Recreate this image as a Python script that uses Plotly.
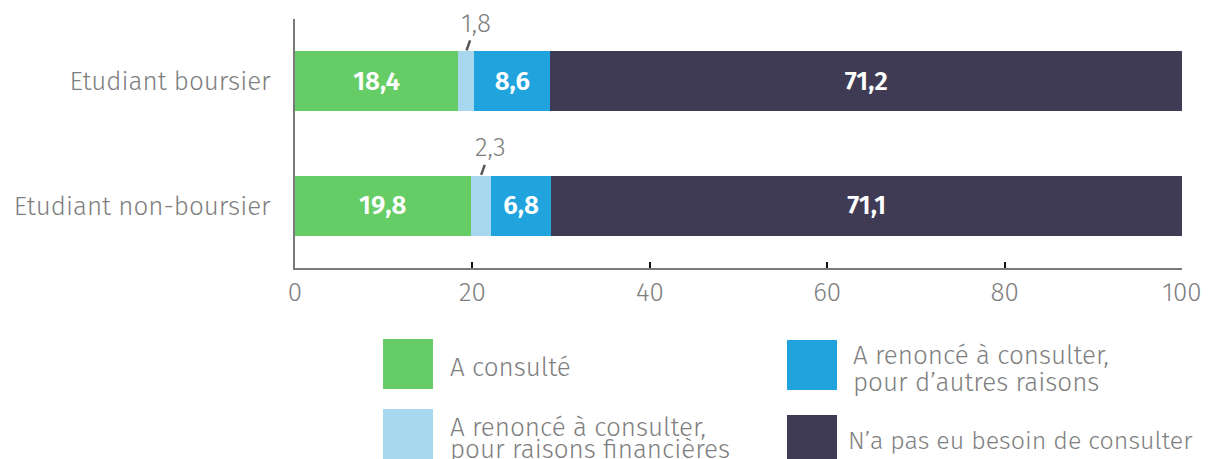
import plotly.graph_objects as go

categories = ["Etudiant boursier", "Etudiant non-boursier"]
series_names = [
    ["A consulté"],
    ["A renoncé à consulter,", "pour raisons financières"],
    ["A renoncé à consulter,", "pour d’autres raisons"],
    ["N’a pas eu besoin de consulter"],
]
consulte = [18.4, 19.8]
renonce_fin = [1.8, 2.3]
renonce_autres = [8.6, 6.8]
pas_besoin = [71.2, 71.1]
x_ticks = [0, 20, 40, 60, 80, 100]

GREEN = "#66CD66"
LIGHT = "#A8D8F0"
BLUE = "#21A4DE"
DARK = "#403B55"
GRAY = "#7F7F7F"
FONT = "Fira Sans, Lato, Open Sans, sans-serif"
FS = 26

# page has an 8px body margin, so the figure is drawn 8px in from the corner
OFF = 8
W, H = 1215 - OFF, 459 - OFF
L, T = 295 - OFF, 19 - OFF
R = W - (1182 - OFF)
B = H - (268 - OFF)


def fmt(v):
    return f"{v:.1f}".replace(".", ",")


def paper_x(px):
    return (px - OFF - L) / (W - L - R)


def paper_y(py):
    return (H - B - (py - OFF)) / (H - T - B)


fig = go.Figure()
series = [consulte, renonce_fin, renonce_autres, pas_besoin]
colors = [GREEN, LIGHT, BLUE, DARK]
for name, vals, col in zip(series_names, series, colors):
    show_text = vals is not renonce_fin
    fig.add_trace(go.Bar(
        y=categories, x=vals, name=" ".join(name), orientation="h",
        marker={"color": col, "line": {"width": 0}},
        width=0.48,
        text=[fmt(v) for v in vals] if show_text else None,
        textposition="inside", insidetextanchor="middle",
        textfont={"family": FONT, "size": FS, "color": "white", "weight": 600},
        showlegend=False,
    ))

# small values labelled above the bars with a leader line
for i, (c, v) in enumerate(zip(consulte, renonce_fin)):
    fig.add_annotation(
        x=c + v / 2, y=i - 0.24, xref="x", yref="y",
        text=fmt(v), showarrow=True, arrowhead=0, arrowwidth=2.5,
        arrowcolor="#555555", ax=10, ay=-28, standoff=1,
        font={"family": FONT, "size": FS, "color": GRAY, "weight": 300},
    )

# legend drawn by hand (large squares, two columns)
legend_items = [
    (383, 339, 448, [367], 0, FS),
    (383, 409, 448, [427, 449], 1, FS),
    (787, 340, 851, [355, 382], 2, FS),
    (787, 415, 846, [441], 3, 25),
]
for sx, sy, tx, tys, k, size in legend_items:
    fig.add_shape(
        type="rect", xref="paper", yref="paper",
        x0=paper_x(sx), x1=paper_x(sx + 50), y0=paper_y(sy), y1=paper_y(sy + 50),
        fillcolor=colors[k], line={"width": 0},
    )
    for ty, line in zip(tys, series_names[k]):
        fig.add_annotation(
            x=paper_x(tx), y=paper_y(ty), xref="paper", yref="paper",
            text=line, showarrow=False, xanchor="left", yanchor="middle",
            align="left",
            font={"family": FONT, "size": size, "color": GRAY, "weight": 300},
        )

fig.update_layout(
    barmode="stack",
    width=W, height=H,
    margin={"l": L, "r": R, "t": T, "b": B, "pad": 0, "autoexpand": False},
    plot_bgcolor="white", paper_bgcolor="white",
    font={"family": FONT, "size": FS, "color": GRAY, "weight": 300},
    uniformtext={"mode": "show", "minsize": 10},
    xaxis={
        "range": [0, 100], "tickvals": x_ticks, "ticktext": [str(t) for t in x_ticks],
        "showgrid": False, "zeroline": False, "automargin": False,
        "showline": True, "linecolor": "#7A7A7A", "linewidth": 2,
        "ticks": "inside", "ticklen": 6, "tickwidth": 2, "tickcolor": "#111111",
        "tickfont": {"family": FONT, "size": FS, "color": GRAY, "weight": 300},
    },
    yaxis={
        "range": [1.5, -0.5], "autorange": False, "type": "category",
        "showgrid": False, "zeroline": False, "automargin": False,
        "showline": True, "linecolor": "#7A7A7A", "linewidth": 2,
        "ticks": "", "ticklabelstandoff": 17,
        "tickfont": {"family": FONT, "size": FS, "color": GRAY, "weight": 300},
    },
)

fig.write_html("out.html")
